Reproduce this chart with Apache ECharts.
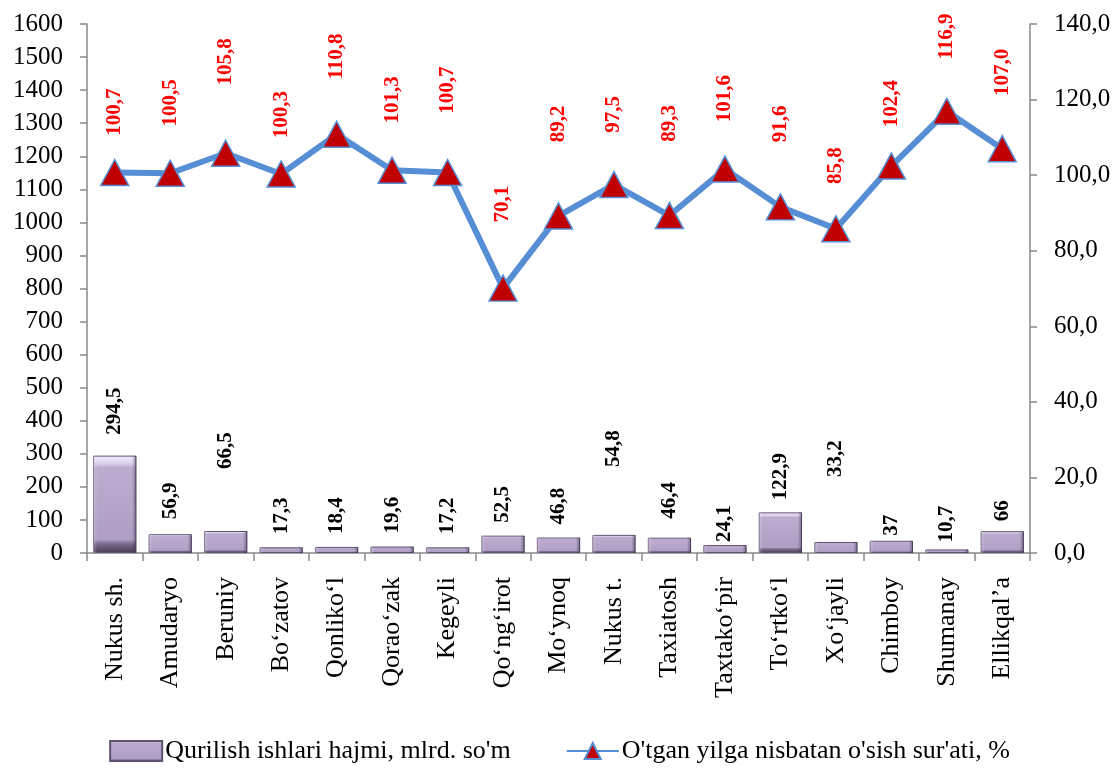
<!DOCTYPE html>
<html>
<head>
<meta charset="utf-8">
<script src="https://cdn.jsdelivr.net/npm/echarts@6/dist/echarts.min.js"></script>
<style>
html,body{margin:0;padding:0;background:#fff;}
#chart{width:1119px;height:769px;}
</style>
</head>
<body>
<div id="chart"></div>
<script>
// ---- data ----
const categories = ["Nukus sh.","Amudaryo","Beruniy","Bo\u2018zatov","Qonliko\u2018l","Qorao\u2018zak","Kegeyli","Qo\u2018ng\u2018irot","Mo\u2018ynoq","Nukus t.","Taxiatosh","Taxtako\u2018pir","To\u2018rtko\u2018l","Xo\u2018jayli","Chimboy","Shumanay","Ellikqal\u2019a"];
const volume = [294.5,56.9,66.5,17.3,18.4,19.6,17.2,52.5,46.8,54.8,46.4,24.1,122.9,33.2,37,10.7,66];
const growth = [100.7,100.5,105.8,100.3,110.8,101.3,100.7,70.1,89.2,97.5,89.3,101.6,91.6,85.8,102.4,116.9,107.0];
const seriesNames = ["Qurilish ishlari hajmi, mlrd. so'm","O'tgan yilga nisbatan o'sish sur'ati, %"];

// ---- layout (label spacing, px) ----
const barLabelGap = [21,15,62,13,13,13,13,13,13,68,19,3,12,65,5,7,10];
const lineLabelGap = [36,46,67,35,54,46,58,65,73,51,73,46,64,44,38,51,52];
const SYM_H = 26;

const FONT = "'Liberation Serif','Times New Roman',serif";
const comma = v => String(v).replace('.', ',');

const barGrad = new echarts.graphic.LinearGradient(0,0,0,1,[
  {offset:0,color:'#f3ecfb'},
  {offset:0.08,color:'#dcd1ea'},
  {offset:0.12,color:'#bcadd0'},
  {offset:0.86,color:'#ae9ec3'},
  {offset:0.91,color:'#75688a'},
  {offset:1,color:'#473d54'}
]);
const sideGrad = new echarts.graphic.LinearGradient(0,0,1,0,[
  {offset:0,color:'rgba(255,255,255,0.25)'},
  {offset:0.1,color:'rgba(255,255,255,0)'},
  {offset:0.9,color:'rgba(40,30,55,0)'},
  {offset:1,color:'rgba(40,30,55,0.45)'}
]);

const chart = echarts.init(document.getElementById('chart'));
chart.setOption({
  animation:false,
  backgroundColor:'#fff',
  textStyle:{fontFamily:FONT},
  grid:{left:87,right:89,top:24,bottom:216},
  legend:{
    bottom:0,left:'center',itemGap:55,itemWidth:52,itemHeight:20,
    textStyle:{fontFamily:FONT,fontSize:26,color:'#000',padding:[0,0,0,-2]},
    data:[{name:seriesNames[0],icon:'rect'},{name:seriesNames[1]}]
  },
  xAxis:{
    type:'category',data:categories,
    axisLine:{lineStyle:{color:'#898989',width:1.5}},
    axisTick:{show:true,interval:0,length:8,lineStyle:{color:'#898989',width:1.5}},
    axisLabel:{interval:0,rotate:90,margin:24,fontFamily:FONT,fontSize:26,color:'#000'}
  },
  yAxis:[
    {type:'value',min:0,max:1600,interval:100,
     axisLine:{show:true,lineStyle:{color:'#898989',width:1.5}},
     axisTick:{show:true,length:7,lineStyle:{color:'#898989',width:1.5}},
     splitLine:{show:false},
     axisLabel:{margin:24,fontFamily:FONT,fontSize:25,color:'#000',formatter:v=>String(v)}},
    {type:'value',min:0,max:140,interval:20,position:'right',
     axisLine:{show:true,lineStyle:{color:'#898989',width:1.5}},
     axisTick:{show:true,length:7,lineStyle:{color:'#898989',width:1.5}},
     splitLine:{show:false},
     axisLabel:{margin:24,fontFamily:FONT,fontSize:25,color:'#000',formatter:v=>v.toFixed(1).replace('.',',')}}
  ],
  series:[
    {name:seriesNames[0],type:'bar',yAxisIndex:0,barCategoryGap:'22%',
     itemStyle:{color:barGrad,borderColor:'#5e5270',borderWidth:1},
     data:volume.map((v,i)=>({value:v,label:{distance:barLabelGap[i]}})),
     label:{show:true,position:'top',rotate:90,align:'left',verticalAlign:'middle',
       fontFamily:FONT,fontSize:21,fontWeight:'bold',color:'#000',
       formatter:p=>comma(p.value)}},
    {name:'bevel',type:'bar',yAxisIndex:0,barGap:'-100%',barCategoryGap:'22%',silent:true,
     itemStyle:{color:sideGrad},data:volume,z:3},
    {name:seriesNames[1],type:'line',yAxisIndex:1,
     lineStyle:{color:'#558ED5',width:6},
     symbol:'triangle',symbolSize:[28,SYM_H],
     itemStyle:{color:'#C00000',borderColor:'#558ED5',borderWidth:1.5},
     data:growth.map((v,i)=>({value:v,label:{distance:lineLabelGap[i]-SYM_H/2}})),
     label:{show:true,position:'top',rotate:90,align:'left',verticalAlign:'middle',
       fontFamily:FONT,fontSize:21,fontWeight:'bold',color:'#FF0000',
       formatter:p=>p.value.toFixed(1).replace('.',',')},
     z:5}
  ]
});
</script>
</body>
</html>
